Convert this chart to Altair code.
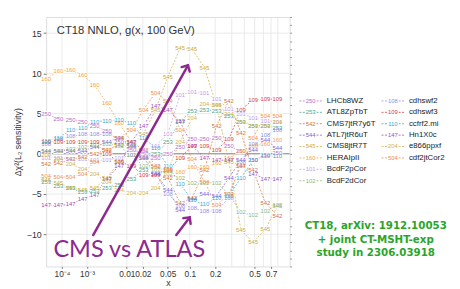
import altair as alt
import pandas as pd

# x grid of the scan (momentum fraction)
x_vals = [1e-5, 6.4e-5, 2.5e-4, 7.2e-4, 1.7e-3, 3.6e-3, 6.9e-3, 0.0123, 0.0206, 0.0328,
          0.0503, 0.0746, 0.107, 0.151, 0.207, 0.280, 0.371, 0.484, 0.624, 0.794]

ids = ["250", "253", "542", "544", "545", "160", "101", "102",
       "108", "109", "110", "147", "204", "504"]
names = ["LHCb8WZ", "ATL8ZpTbT", "CMS7jtR7y6T", "ATL7jtR6uT", "CMS8jtR7T", "HERAIpII",
         "BcdF2pCor", "BcdF2dCor", "cdhswf2", "cdhswf3", "ccfrf2.mi", "Hn1X0c",
         "e866ppxf", "cdf2jtCor2"]
colors = ["#b86cc8", "#4fa38a", "#d0743c", "#7b5fd6", "#c9a93a", "#f4a23c", "#c29be8",
          "#8fb57a", "#8d8de6", "#d23c3c", "#35a9cc", "#a04ab5", "#d2b24a", "#f08c4a"]

s250 = [5.0, 4.3, 4.2, 4.0, 3.5, 2.8, 1.5, 0.5, 0.0, -0.5, 0.0, 0.8, 1.8, 1.8, 2.0, 1.0, 0.3, -0.8, -0.2, 0.1]
s253 = [-3.5, -4.0, -4.3, -4.8, -4.6, -4.3, -3.9, -3.1, -2.0, 0.0, 1.5, 4.1, 5.3, 5.5, 5.3, 4.7, 4.0, 3.5, 3.5, 3.2]
s542 = [-1.3, -1.2, -0.7, -0.4, 0.0, 0.5, 1.1, 1.5, 0.5, -1.5, -3.0, -6.1, -5.5, -2.0, 3.5, 6.6, 2.6, -2.0, -6.1, -7.7]
s544 = [0.3, 0.4, 0.4, 0.4, 0.8, 1.5, 2.0, 1.0, -0.5, -2.5, -4.5, -7.0, -5.6, -5.0, -5.2, -3.0, -0.8, 0.5, 1.7, 0.7]
s545 = [-3.3, -3.6, -4.2, -4.5, -4.3, -3.0, -1.0, 1.0, 2.5, 5.5, 9.6, 13.1, 13.0, 10.7, 6.0, -1.0, -9.5, -11.0, -9.4, -6.5]
s160 = [9.3, 10.3, 10.4, 9.8, 8.5, 6.3, 3.8, 1.5, -0.5, -1.6, -2.2, -2.3, -1.7, -1.7, -1.2, -0.5, 0.3, 1.0, 1.2, 1.7]
s101 = [-0.5, -0.5, -0.6, -0.7, -0.8, -0.8, -0.5, -0.2, 0.3, 1.0, 2.5, 7.3, 7.7, 7.5, 6.8, 5.6, 5.0, 4.5, 4.1, 4.0]
s102 = [0.2, 0.4, 0.6, 0.8, 1.1, 1.2, 1.0, -0.2, -1.5, -2.0, -2.5, -3.0, -3.6, -3.6, -3.6, -5.0, -7.3, -7.6, -7.1, -6.4]
s108 = [1.2, 1.8, 2.2, 2.4, 2.4, 2.4, 2.0, 1.0, -0.5, -2.5, -5.0, -6.5, -6.8, -7.1, -7.1, -5.5, -1.0, 1.2, 2.3, 2.9]
s109 = [1.4, 1.5, 1.5, 1.5, 1.5, 0.0, -1.0, -1.5, -2.6, -2.6, -2.0, -0.5, 1.0, 1.0, 0.5, 1.8, 5.5, 6.7, 6.8, 6.8]
s110 = [1.6, 2.0, 2.9, 3.2, 4.0, 4.1, 4.2, 3.8, 2.0, 0.7, -1.5, -3.7, -5.8, -6.3, -5.5, -5.2, -3.0, -0.8, -0.3, -0.3]
s147 = [-6.4, -6.4, -6.3, -5.6, -5.1, -3.1, -1.5, 1.5, 3.5, 5.9, 5.5, 4.0, 1.0, -0.5, -0.8, -0.8, -1.5, -2.5, -3.1, -3.1]
s204 = [-0.2, -0.6, -1.3, -1.9, -2.5, -3.5, -4.5, -4.9, -4.9, -4.2, -2.0, 1.5, 4.4, 6.2, 6.0, 5.0, 4.0, 3.5, 3.5, 3.9]
s504 = [-2.8, -2.9, -2.9, -2.5, -1.0, 0.5, 2.0, 2.9, 5.5, 7.6, 6.5, 3.0, -0.7, -3.5, -6.4, -5.0, -1.5, 2.0, 4.7, 4.7]
series = [s250, s253, s542, s544, s545, s160, s101, s102, s108, s109, s110, s147, s204, s504]

x_ticks = [1e-4, 1e-3, 0.01, 0.02, 0.05, 0.1, 0.2, 0.5, 0.7]
x_tick_labels = ["10⁻⁴", "10⁻³", "0.01", "0.02", "0.05", "0.1", "0.2", "0.5", "0.7"]
x_grid = [1e-4, 1e-3, 0.01, 0.02, 0.05, 0.1, 0.2, 0.3, 0.4, 0.5, 0.6, 0.7, 0.8]
y_ticks = [-10, -5, 0, 5, 10, 15]
y_grid = [-10, -5, 5, 10, 15]
y_minor = list(range(-14, 18))

title_text = "CT18 NNLO, g(x, 100 GeV)"
note_lines = ["CT18, arXiv: 1912.10053", "+ joint CT-MSHT-exp", "study in 2306.03918"]
annot_text = "CMS vs ATLAS"

# annotation anchor points in data coordinates
arrow_x1 = [1.54e-3, 0.0662]
arrow_v1 = [-10.1, -10.1]
arrow_x2 = [0.0947, 0.100]
arrow_v2 = [11.0, -7.9]
arrow_ang = [29, 38]

PURPLE = "#8e2a8e"
GREEN = "#2aa52a"
FONT = "Liberation Sans"

rows = []
for sid, name, vals in zip(ids, names, series):
    for x, v in zip(x_vals, vals):
        rows.append({"id": sid, "name": name, "x": x, "v": v})
df = pd.DataFrame(rows)

xs = alt.Scale(type="pow", exponent=0.2, domain=[1e-5, 1], zero=False, nice=False)
ys = alt.Scale(domain=[-14, 17], zero=False, nice=False)
cs = alt.Scale(domain=ids, range=colors)

lbl_map = " : ".join(
    f"abs(datum.value - {v}) < {v * 0.01} ? '{t}'" for v, t in zip(x_ticks, x_tick_labels)) + " : ''"

x_axis = alt.Axis(values=x_ticks, grid=False, title="x", tickSize=2, domain=False, orient="bottom",
                  labelExpr=lbl_map, labelFont=FONT, labelFontSize=8.5, labelColor="#333",
                  labelOverlap=False, titleFont=FONT, titleFontSize=9, titleFontWeight="normal",
                  titleColor="#333", titlePadding=1, tickColor="#777", labelPadding=1)
y_axis = alt.Axis(values=y_ticks, grid=False, title="Δχ²(L₂ sensitivity)", tickSize=3, domain=False,
                  orient="left", labelFont=FONT, labelFontSize=9, labelColor="#333", titleFont=FONT,
                  titleFontSize=9, titleFontWeight="normal", titleColor="#333", titlePadding=4,
                  tickColor="#777", labelPadding=2)
y_axis_r = alt.Axis(values=y_minor, orient="right", labels=False, title=None, tickSize=2, domain=False,
                    grid=False, tickColor="#999")

def Xn(field="x"):
    return alt.X(f"{field}:Q", scale=xs, axis=None)

def Yn(field="v"):
    return alt.Y(f"{field}:Q", scale=ys, axis=None)

grid_x = alt.Chart(pd.DataFrame({"x": x_grid})).mark_rule(color="#e4e4e4", strokeWidth=0.8).encode(
    x=alt.X("x:Q", scale=xs, axis=x_axis))
grid_y = alt.Chart(pd.DataFrame({"v": y_grid})).mark_rule(color="#e4e4e4", strokeWidth=0.8).encode(
    y=alt.Y("v:Q", scale=ys, axis=y_axis))
minor = alt.Chart(pd.DataFrame({"v": y_minor})).mark_rule(opacity=0).encode(
    y=alt.Y("v:Q", scale=ys, axis=y_axis_r))
zero = alt.Chart(pd.DataFrame({"v": [0]})).mark_rule(color="#7a7a7a", strokeWidth=1).encode(y=Yn())

lines = alt.Chart(df).mark_line(strokeDash=[2, 1.5], strokeWidth=0.8, opacity=0.9).encode(
    x=Xn(), y=Yn(), color=alt.Color("id:N", scale=cs, legend=None), detail="id:N", order="x:Q")
halo = alt.Chart(df).mark_text(fontSize=6, font=FONT, stroke="white", strokeWidth=1.6, fill="white").encode(
    x=Xn(), y=Yn(), text="id:N")
labels = alt.Chart(df).mark_text(fontSize=6, font=FONT).encode(
    x=Xn(), y=Yn(), text="id:N", color=alt.Color("id:N", scale=cs, legend=None))

title = alt.Chart(pd.DataFrame({"x": [5.3e-5], "v": [15.2], "t": [title_text]})).mark_text(
    fontSize=11.5, font=FONT, align="left", baseline="middle", color="#333").encode(x=Xn(), y=Yn(), text="t:N")

arrows_df = pd.DataFrame({"x": arrow_x1, "v": arrow_v1, "x2": arrow_x2, "v2": arrow_v2, "ang": arrow_ang})
arrow_lines = alt.Chart(arrows_df).mark_rule(color=PURPLE, strokeWidth=2.5, strokeCap="round").encode(
    x=Xn(), y=Yn(), x2="x2:Q", y2="v2:Q")
arrow_heads = alt.Chart(arrows_df).mark_point(shape="M-1,1L0,0L1,1", filled=False, color=PURPLE,
                                              strokeWidth=2.5, size=90, opacity=1, strokeCap="round").encode(
    x=Xn("x2"), y=Yn("v2"), angle=alt.Angle("ang:Q", scale=None))
annot = alt.Chart(pd.DataFrame({"x": [0.0112], "v": [-12.0], "t": [annot_text]})).mark_text(
    fontSize=24, font="Lato", align="center", baseline="middle", color=PURPLE).encode(x=Xn(), y=Yn(), text="t:N")

# legend, placed right of the frame through the same scales
leg_rows = []
for i, (sid, name) in enumerate(zip(ids, names)):
    leg_rows.append({"id": sid, "name": name, "col": i // 8, "row": i % 8})
leg_df = pd.DataFrame(leg_rows)
base = alt.Chart(leg_df).transform_calculate(
    lv="6.57 - 1.417 * datum.row",
    lx0="pow(1.036 + 0.3036 * datum.col, 5)",
    lx1="pow(1.036 + 0.3036 * datum.col + 0.0831, 5)",
    lxm="pow(1.036 + 0.3036 * datum.col + 0.0416, 5)",
    lxt="pow(1.036 + 0.3036 * datum.col + 0.1012, 5)")
leg_line = base.mark_rule(strokeDash=[2, 1.5], strokeWidth=0.8).encode(
    x=Xn("lx0"), x2="lx1:Q", y=Yn("lv"), color=alt.Color("id:N", scale=cs, legend=None))
leg_halo = base.mark_text(fontSize=6, font=FONT, stroke="white", strokeWidth=1.6, fill="white").encode(
    x=Xn("lxm"), y=Yn("lv"), text="id:N")
leg_num = base.mark_text(fontSize=6, font=FONT).encode(
    x=Xn("lxm"), y=Yn("lv"), text="id:N", color=alt.Color("id:N", scale=cs, legend=None))
leg_name = base.mark_text(fontSize=8, font=FONT, align="left", baseline="middle", color="#222").encode(
    x=Xn("lxt"), y=Yn("lv"), text="name:N")
note_df = pd.DataFrame({"t": note_lines, "nv": [-9.0, -10.68, -12.36], "nx": [3.98, 3.98, 3.98]})
note = alt.Chart(note_df).mark_text(fontSize=10.5, font="DejaVu Sans", fontWeight="bold", color=GREEN,
                                    align="center", baseline="middle").encode(
    x=Xn("nx"), y=Yn("nv"), text="t:N")

chart = alt.layer(grid_x, grid_y, minor, zero, lines, halo, labels, title,
                  arrow_lines, arrow_heads, annot, leg_line, leg_halo, leg_num, leg_name, note
                  ).resolve_axis(x="independent", y="independent").properties(
    width=249, height=255).configure_view(stroke="#777", strokeWidth=0.8).configure(background="white")
chart.save("out.html", embed_options={"renderer": "svg", "actions": False})
